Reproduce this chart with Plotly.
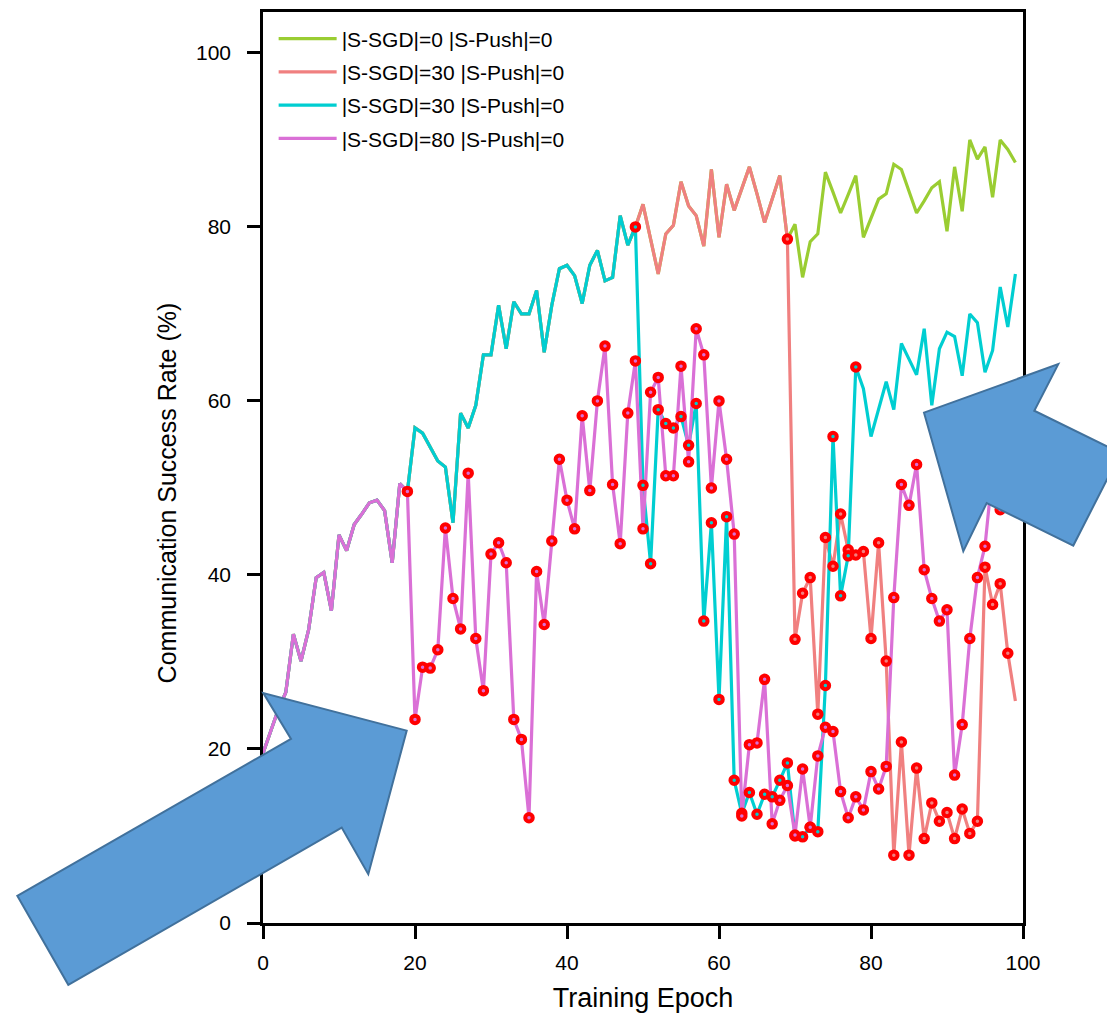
import plotly.graph_objects as go

# ---------------- data ----------------
epochs = list(range(100))

# no-attack run (|S-SGD|=0), epochs 0..99
baseline = [19.5, 22.0, 24.5, 26.5, 33.2, 30.1, 33.7, 39.7, 40.3, 35.9,
            44.6, 42.8, 45.8, 47.0, 48.3, 48.6, 47.4, 41.4, 50.5, 49.6,
            56.9, 56.3, 54.6, 53.1, 52.4, 46.0, 58.6, 56.9, 59.5, 65.3,
            65.3, 71.0, 66.0, 71.4, 70.0, 70.0, 72.7, 65.6, 71.0, 75.2,
            75.6, 74.4, 71.2, 75.6, 77.3, 73.8, 74.2, 81.3, 77.9, 80.0,
            82.6, 78.6, 74.6, 79.2, 80.2, 85.2, 82.4, 81.3, 77.8, 86.6,
            78.8, 84.9, 81.9, 84.4, 86.9, 83.8, 80.5, 83.2, 85.9, 78.6,
            80.3, 74.2, 78.3, 79.2, 86.3, 84.0, 81.6, 83.7, 85.9, 78.8,
            81.0, 83.2, 83.8, 87.2, 86.6, 84.1, 81.6, 83.0, 84.5, 85.2,
            79.5, 86.9, 81.8, 90.0, 87.8, 89.2, 83.4, 90.0, 88.9, 87.4]

# |S-SGD|=30 run (salmon), epochs 70..99 (identical to baseline before)
salmon_tail = [32.6, 37.9, 39.7, 24.0, 44.3, 41.0, 47.0, 42.9, 42.3, 42.7,
               32.7, 43.7, 30.1, 7.8, 20.8, 7.8, 17.8, 9.7, 13.8, 11.7,
               12.7, 9.7, 13.1, 10.3, 11.7, 40.9, 36.6, 39.0, 31.0, 25.5]

# |S-SGD|=30 run (cyan), epochs 50..99
cyan_tail = [50.3, 41.3, 59.0, 57.4, 56.9, 58.2, 54.9, 59.7, 34.7, 46.0,
             25.7, 46.7, 16.4, 12.6, 15.0, 12.5, 14.8, 14.5, 16.4, 18.4,
             10.0, 9.9, 11.0, 10.5, 27.3, 55.9, 37.6, 42.2, 63.9, 61.4,
             55.9, 59.1, 62.2, 59.0, 66.6, 64.8, 63.0, 68.3, 59.5, 66.0,
             67.9, 67.4, 62.9, 70.0, 69.0, 63.3, 65.8, 73.1, 68.5, 74.6]

# |S-SGD|=80 run (violet), epochs 20..99
violet_tail = [23.4, 29.4, 29.3, 31.4, 45.4, 37.3, 33.8, 51.7, 32.7, 26.7,
               42.4, 43.7, 41.4, 23.4, 21.1, 12.1, 40.4, 34.3, 43.9, 53.3,
               48.6, 45.3, 58.3, 49.7, 60.0, 66.3, 50.4, 43.6, 58.6, 64.6,
               45.3, 61.0, 62.7, 51.4, 51.4, 64.0, 53.0, 68.3, 65.3, 50.0,
               60.0, 53.3, 44.7, 12.3, 20.5, 20.7, 28.0, 11.4, 14.1, 15.8,
               10.1, 17.7, 11.0, 19.2, 22.5, 22.0, 15.1, 12.1, 14.5, 13.0,
               17.4, 15.4, 18.0, 37.4, 50.4, 48.0, 52.7, 40.6, 37.3, 34.7,
               36.0, 17.0, 22.8, 32.7, 39.7, 43.3, 52.0, 47.5, 51.0, 54.0]

series_names = ["|S-SGD|=0 |S-Push|=0", "|S-SGD|=30 |S-Push|=0",
                "|S-SGD|=30 |S-Push|=0", "|S-SGD|=80 |S-Push|=0"]
series_colors = ["#9ACD32", "#F08080", "#00CED1", "#DA70D6"]
# first / last epoch marked with a red dot (attacked epochs)
dot_ranges = [None, (69, 98), (49, 78), (19, 99)]

xticks = [0, 20, 40, 60, 80, 100]
yticks = [0, 20, 40, 60, 80, 100]

series_values = [
    baseline,
    baseline[:70] + salmon_tail,
    baseline[:50] + cyan_tail,
    baseline[:20] + violet_tail,
]

# ---------------- figure ----------------
PAGE_OFF = 8                       # default body margin of the html page
W, H = 1107, 1007
ML, MR, MT, MB = 255, 92, 1, 92

fig = go.Figure()
for i, (name, col, vals) in enumerate(zip(series_names, series_colors, series_values)):
    fig.add_trace(go.Scatter(x=epochs, y=vals, mode="lines", name=name,
                             legendgroup=f"g{i}",
                             line=dict(color=col, width=3.2)))
for name, col, vals, rng in zip(series_names, series_colors, series_values, dot_ranges):
    if rng is None:
        continue
    a, b = rng
    fig.add_trace(go.Scatter(x=epochs[a:b + 1], y=vals[a:b + 1], mode="markers",
                             showlegend=False, hoverinfo="skip",
                             marker=dict(symbol="circle", size=7.5, color=col,
                                         line=dict(color="#FF0000", width=4))))

# decorative block arrows (page-pixel outlines converted to paper coordinates)
def to_paper(pts):
    pw = W - ML - MR
    ph = H - MT - MB
    out = []
    for i, (X, Y) in enumerate(pts):
        xp = (X - PAGE_OFF - ML) / pw
        yp = (H - MB - (Y - PAGE_OFF)) / ph
        out.append(("M" if i == 0 else "L") + f"{xp:.5f},{yp:.5f}")
    return " ".join(out) + " Z"

left_arrow = [(17.3, 895.7), (68.3, 985.0), (341.7, 827.3), (368.3, 874.0),
              (406.7, 730.0), (263.3, 692.3), (291.0, 738.3)]
right_arrow = [(924.0, 411.0), (1058.3, 362.3), (1034.3, 409.0), (1120.5, 451.5),
               (1073.3, 544.3), (986.7, 501.7), (963.3, 550.0)]
for poly in (left_arrow, right_arrow):
    fig.add_shape(type="path", path=to_paper(poly), xref="paper", yref="paper",
                  fillcolor="#5B9BD5", line=dict(color="#41719C", width=2),
                  layer="above")

axis_common = dict(showline=True, linecolor="black", linewidth=2.5, mirror=True,
                   ticks="outside", ticklen=13, tickwidth=2.5, tickcolor="black",
                   showgrid=False, zeroline=False,
                   tickfont=dict(size=21, color="black"))

# y-axis title sits a little below the plot's vertical centre in the reference
fig.add_annotation(text="Communication Success Rate (%)", textangle=-90,
                   xref="paper", yref="paper", x=-0.1263, y=0.4716,
                   xanchor="center", yanchor="middle", showarrow=False,
                   font=dict(size=25, color="black"))

fig.update_layout(
    width=W, height=H,
    margin=dict(l=ML, r=MR, t=MT, b=MB),
    plot_bgcolor="white", paper_bgcolor="white",
    font=dict(family="Arial, Liberation Sans, sans-serif", color="black"),
    xaxis=dict(range=[0, 100], tickvals=xticks, ticklabelstandoff=6,
               title=dict(text="Training Epoch", font=dict(size=27), standoff=16),
               **axis_common),
    yaxis=dict(range=[0, 104.7], tickvals=yticks, ticklabelstandoff=12,
               **axis_common),
    legend=dict(x=0.014, y=0.993, xanchor="left", yanchor="top",
                bgcolor="rgba(0,0,0,0)", font=dict(size=21, color="black"),
                itemwidth=58, tracegroupgap=3),
    showlegend=True,
)

fig.write_html("out.html")
